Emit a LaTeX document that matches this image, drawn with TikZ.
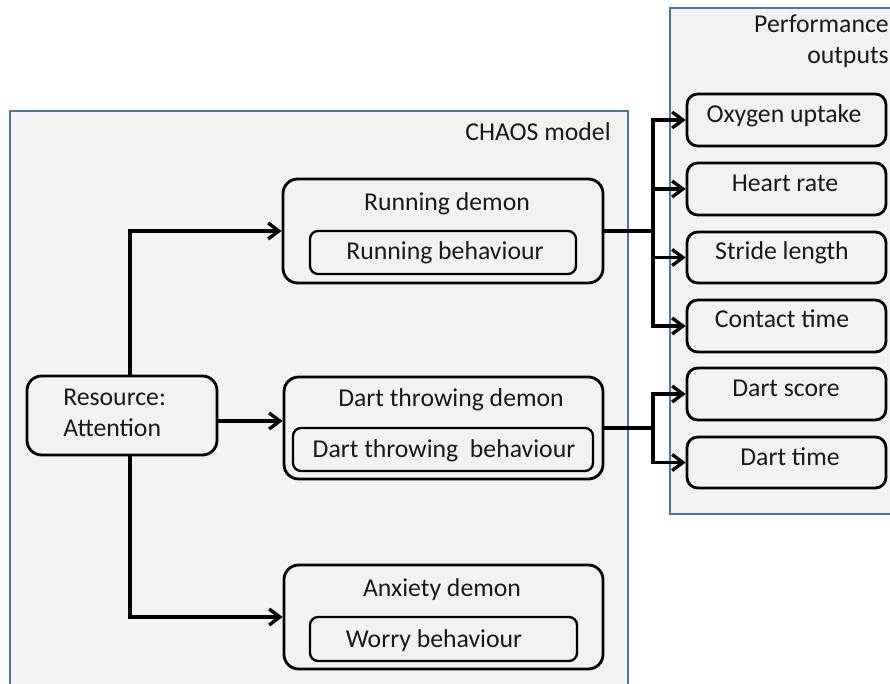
\documentclass[tikz,border=0pt]{standalone}
\usepackage{fontspec}
\setmainfont{Carlito}
\usetikzlibrary{arrows.meta,fit}
\definecolor{chaosblue}{RGB}{74,118,172}
\definecolor{boxgray}{RGB}{242,242,242}
\definecolor{txtcol}{RGB}{25,25,25}
\begin{document}
\begin{tikzpicture}[x=0.75pt,y=-0.75pt,
  container/.style={draw=chaosblue,fill=boxgray,line width=1.7pt},
  demonbox/.style={draw=black,line width=2.1pt,rounded corners=11pt,inner sep=0pt},
  innerbox/.style={draw=black,line width=1.7pt,rounded corners=6pt,inner sep=0pt},
  outbox/.style={draw=black,line width=2.1pt,rounded corners=8pt,inner sep=0pt},
  txt/.style={font=\fontsize{19.3}{23}\selectfont,inner sep=0pt,text=txtcol},
  conn/.style={line width=2.5pt,draw=black},
  arr/.style={conn,-{Straight Barb[length=8pt,width=12pt]}}
]
\useasboundingbox (0,0) rectangle (890,684);
\clip (0,0) rectangle (890,684);
\fill[white] (0,0) rectangle (890,684);

% containers
\draw[container] (10,111) rectangle (628,700);
\draw[container] (670,8) rectangle (900,514);
\node[txt,anchor=base east] (chaoslbl) at (611,141) {CHAOS model};
\node[txt,anchor=base east] (perf1) at (889,33) {Performance};
\node[txt,anchor=base east] (perf2) at (889,64) {outputs};

% resource
\node[demonbox,fit={(27,376) (217,455)}] (res) {};
\node[txt,anchor=base west] (res1) at (63,406) {Resource:};
\node[txt,anchor=base west] (res2) at (63,437) {Attention};

% demons
\node[demonbox,fit={(283,179) (603,283)}] (run) {};
\node[innerbox,fit={(310,231) (576,274)}] (runb) {};
\node[txt,anchor=base] (runt) at (447,211) {Running demon};
\node[txt,anchor=base] (runbt) at (445,260) {Running behaviour};

\node[demonbox,fit={(284,377) (603,479)}] (dart) {};
\node[innerbox,fit={(293,428) (593,471)}] (dartb) {};
\node[txt,anchor=base] (dartt) at (451,407) {Dart throwing demon};
\node[txt,anchor=base] (dartbt) at (444,458) {Dart throwing\ \ behaviour};

\node[demonbox,fit={(284,565) (603,669)}] (anx) {};
\node[innerbox,fit={(310,617) (577,661)}] (anxb) {};
\node[txt,anchor=base] (anxt) at (442,596) {Anxiety demon};
\node[txt,anchor=base] (anxbt) at (434,647) {Worry behaviour};

% outputs
\node[outbox,fit={(687,94) (886,146)}] (oxy) {};
\node[outbox,fit={(687,163) (886,215)}] (heart) {};
\node[outbox,fit={(687,232) (886,283)}] (stride) {};
\node[outbox,fit={(687,300) (886,352)}] (contact) {};
\node[outbox,fit={(687,368) (886,420)}] (dscore) {};
\node[outbox,fit={(687,437) (886,488)}] (dtime) {};
\node[txt,anchor=base] (oxyt) at (784,123) {Oxygen uptake};
\node[txt,anchor=base] (heartt) at (785,192) {Heart rate};
\node[txt,anchor=base] (stridet) at (782,260) {Stride length};
\node[txt,anchor=base] (contactt) at (782,328) {Contact time};
\node[txt,anchor=base] (dscoret) at (786,397) {Dart score};
\node[txt,anchor=base] (dtimet) at (790,466) {Dart time};

% connectors
\coordinate (vx) at (130,0);
\coordinate (ya) at (0,421);
\coordinate (bx) at (653,0);
\draw[arr] (res.north -| vx) |- (run.west);
\draw[arr] (res.south -| vx) |- (anx.west);
\draw[arr] (res.east |- ya) -- (dart.west |- ya);
\foreach \n in {oxy,heart,stride,contact}
  \draw[arr,line join=miter] (run.east) -- (bx |- run.east) |- (\n.west);
\foreach \n in {dscore,dtime}
  \draw[arr,line join=miter] (dart.east) -- (bx |- dart.east) |- (\n.west);
\end{tikzpicture}
\end{document}
